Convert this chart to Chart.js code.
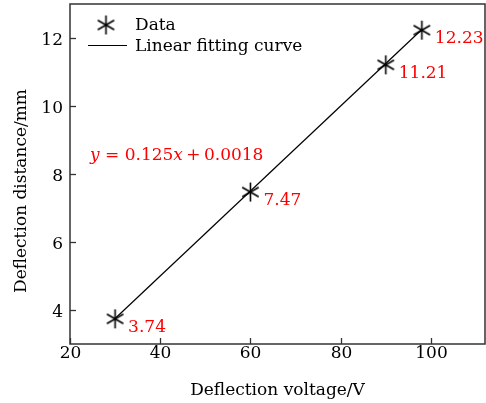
<!DOCTYPE html>
<html>
<head>
<meta charset="utf-8">
<script src="https://cdn.jsdelivr.net/npm/chart.js@4"></script>
<style>
  html, body { margin: 0; padding: 0; background: #fff; }
</style>
</head>
<body>
<canvas id="myChart" width="486" height="403"></canvas>
<script>
// measured points
const voltage = [30, 60, 90, 98];
const distance = [3.74, 7.47, 11.21, 12.23];
const pointLabels = ['3.74', '7.47', '11.21', '12.23'];
// linear fit ends
const fitX = [30, 98];
const fitY = [3.7518, 12.2518];
const xTicks = [20, 40, 60, 80, 100];
const yTicks = [4, 6, 8, 10, 12];

const FONT = '"DejaVu Serif", serif';
const FS = 17;

// pgfplots style asterisk: vertical + two at +-30deg
function makeAsterisk(r) {
  const c = document.createElement('canvas');
  const s = Math.ceil(r * 2 + 4);
  c.width = s; c.height = s;
  const g = c.getContext('2d');
  g.strokeStyle = '#000';
  g.lineWidth = 1.6;
  g.translate(s / 2, s / 2);
  [90, 30, 150].forEach(a => {
    const t = a * Math.PI / 180;
    g.beginPath();
    g.moveTo(-r * Math.cos(t), -r * Math.sin(t));
    g.lineTo(r * Math.cos(t), r * Math.sin(t));
    g.stroke();
  });
  return c;
}
const star = makeAsterisk(9.5);

const extras = {
  id: 'extras',
  afterDatasetsDraw(chart) {
    const c = chart.ctx;
    const a = chart.chartArea;
    const xs = chart.scales.x, ys = chart.scales.y;
    c.save();

    // frame
    c.strokeStyle = '#333';
    c.lineWidth = 1.5;
    c.strokeRect(a.left, a.top, a.right - a.left, a.bottom - a.top);

    // inward ticks + tick labels
    c.lineWidth = 1.3;
    c.font = FS + 'px ' + FONT;
    c.fillStyle = '#000';
    c.textBaseline = 'alphabetic';
    c.textAlign = 'center';
    xTicks.forEach(v => {
      const px = Math.round(xs.getPixelForValue(v)) + 0.5;
      c.beginPath(); c.moveTo(px, a.bottom); c.lineTo(px, a.bottom - 6); c.stroke();
      c.fillText(String(v), px, a.bottom + 14);
    });
    c.textAlign = 'right';
    yTicks.forEach(v => {
      const py = Math.round(ys.getPixelForValue(v)) + 0.5;
      c.beginPath(); c.moveTo(a.left, py); c.lineTo(a.left + 6, py); c.stroke();
      c.fillText(String(v), a.left - 7, py + 6);
    });

    // value labels
    c.fillStyle = '#ff0000';
    c.textAlign = 'left';
    voltage.forEach((v, i) => {
      const px = xs.getPixelForValue(v);
      const py = ys.getPixelForValue(distance[i]);
      c.fillText(pointLabels[i], px + 13, py + 13);
    });

    // equation
    const parts = [['y', true], [' = ', false], ['0.125', false], ['x', true], ['\u2009+\u2009', false], ['0.0018', false]];
    let ex = 90;
    const ey = ys.getPixelForValue(8.6) + 6;
    parts.forEach(p => {
      c.font = (p[1] ? 'italic ' : '') + FS + 'px ' + FONT;
      c.fillText(p[0], ex, ey);
      ex += c.measureText(p[0]).width;
    });

    // legend
    c.fillStyle = '#000';
    c.font = FS + 'px ' + FONT;
    c.drawImage(star, 106 - star.width / 2, 25 - star.height / 2);
    c.fillText('Data', 135, 30);
    c.strokeStyle = '#000';
    c.lineWidth = 1.2;
    c.beginPath(); c.moveTo(88, 45.5); c.lineTo(127, 45.5); c.stroke();
    c.fillText('Linear fitting curve', 135, 51);

    // axis titles
    c.textAlign = 'center';
    c.fillText('Deflection voltage/V', (a.left + a.right) / 2, 395);
    c.translate(26, 191);
    c.rotate(-Math.PI / 2);
    c.fillText('Deflection distance/mm', 0, 0);
    c.restore();
  }
};

new Chart(document.getElementById('myChart'), {
  type: 'scatter',
  data: {
    datasets: [
      {
        label: 'Data',
        data: voltage.map((x, i) => ({ x: x, y: distance[i] })),
        pointStyle: star,
        pointRadius: 10,
        showLine: false
      },
      {
        label: 'Linear fitting curve',
        data: fitX.map((x, i) => ({ x: x, y: fitY[i] })),
        showLine: true,
        borderColor: '#000',
        borderWidth: 1.2,
        pointRadius: 0
      }
    ]
  },
  options: {
    responsive: false,
    animation: false,
    devicePixelRatio: 1,
    layout: { autoPadding: false, padding: { top: 4, right: 1, left: 0, bottom: 0 } },
    plugins: { legend: { display: false }, tooltip: { enabled: false } },
    scales: {
      x: {
        type: 'linear',
        min: 20,
        max: 112,
        afterBuildTicks: s => { s.ticks = xTicks.map(v => ({ value: v })); },
        afterFit: s => { s.height = 59; },
        grid: { display: false },
        border: { display: false },
        ticks: { display: false }
      },
      y: {
        min: 3,
        max: 13,
        afterBuildTicks: s => { s.ticks = yTicks.map(v => ({ value: v })); },
        afterFit: s => { s.width = 70; },
        grid: { display: false },
        border: { display: false },
        ticks: { display: false }
      }
    }
  },
  plugins: [extras]
});
</script>
</body>
</html>
